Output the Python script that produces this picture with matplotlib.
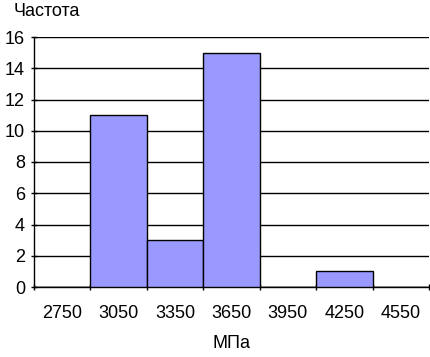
import matplotlib
matplotlib.use("Agg")
import matplotlib.pyplot as plt
import numpy as np

categories = ["2750", "3050", "3350", "3650", "3950", "4250", "4550"]
counts = [0, 11, 3, 15, 0, 1, 0]
yticks = [0, 2, 4, 6, 8, 10, 12, 14, 16]

plt.rcParams['font.family'] = ['Liberation Sans', 'DejaVu Sans']

fig = plt.figure(figsize=(4.31, 3.57), dpi=100)
ax = fig.add_axes([34/431, 1-287/357, (429-34)/431, 250/357])

x = np.arange(len(categories))
ax.bar(x, counts, width=1.0, color="#9999FF", edgecolor="black", linewidth=1.0, zorder=3)

ax.set_xlim(-0.5, len(categories) - 0.5)
ax.set_ylim(0, 16)
ax.set_yticks(yticks)
ax.set_yticklabels([str(v) for v in yticks], fontsize=13)
ax.yaxis.grid(True, color="black", linewidth=1.0, zorder=0)
ax.set_axisbelow(True)

ax.set_xticks(x)
ax.set_xticklabels(categories, fontsize=13)
ax.tick_params(axis='x', length=0, pad=13)
ax.set_xticks(np.arange(len(categories) + 1) - 0.5, minor=True)
ax.tick_params(axis='x', which='minor', length=5, width=1, direction='inout')
ax.tick_params(axis='y', length=5, width=1, direction='inout', pad=4)

for s in ["top", "right"]:
    ax.spines[s].set_visible(False)
ax.spines["left"].set_linewidth(1.0)
ax.spines["bottom"].set_linewidth(1.0)

fig.text(14/431, 1-12/357, "Частота", fontsize=13, va="center", ha="left")
ax.set_xlabel("МПа", fontsize=13, labelpad=9)

fig.savefig("out.png", dpi=100)
